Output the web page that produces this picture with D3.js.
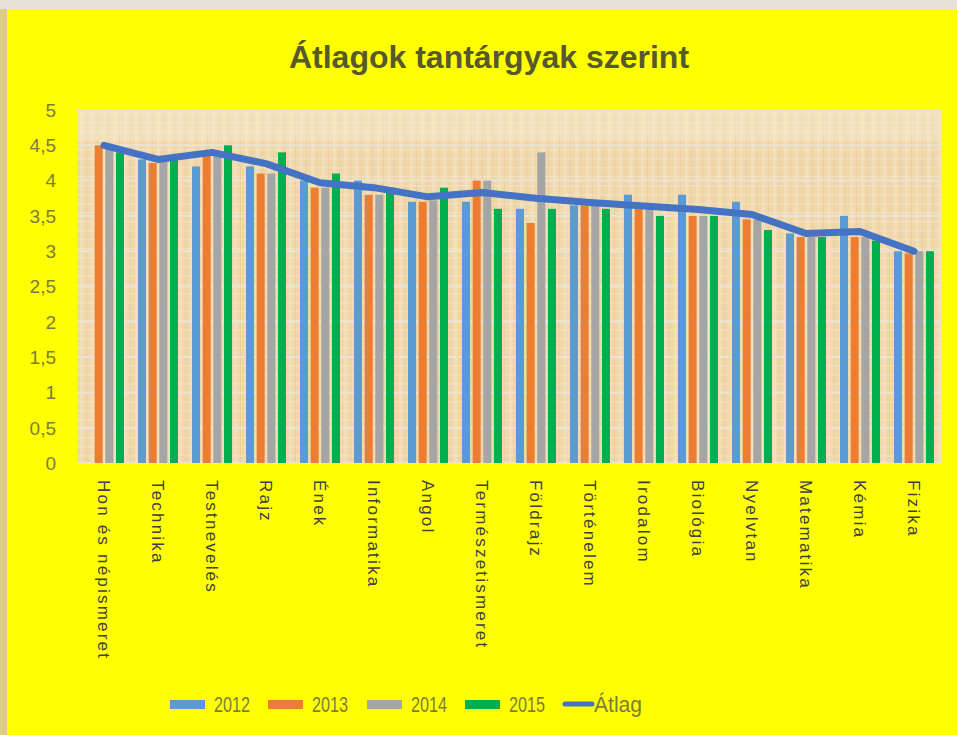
<!DOCTYPE html>
<html>
<head>
<meta charset="utf-8">
<script src="https://cdn.jsdelivr.net/npm/d3@7"></script>
<style>
  body { margin: 0; background: #e6e2da; }
  text { font-family: "Liberation Sans", Arial, sans-serif; }
</style>
</head>
<body>
<div id="chart"></div>
<script>
var categories = ["Hon és népismeret", "Technika", "Testnevelés", "Rajz", "Ének", "Informatika",
    "Angol", "Természetismeret", "Földrajz", "Történelem", "Irodalom", "Biológia",
    "Nyelvtan", "Matematika", "Kémia", "Fizika"];
var years = ["2012", "2013", "2014", "2015"];
var v2012 = [null, 4.3, 4.2, 4.2, 4.0, 4.0, 3.7, 3.7, 3.6, 3.65, 3.8, 3.8, 3.7, 3.25, 3.5, 3.0];
var v2013 = [4.5, 4.25, 4.35, 4.1, 3.9, 3.8, 3.7, 4.0, 3.4, 3.65, 3.6, 3.5, 3.45, 3.2, 3.2, 2.97];
var v2014 = [4.45, 4.28, 4.35, 4.1, 3.9, 3.8, 3.72, 4.0, 4.4, 3.65, 3.6, 3.5, 3.45, 3.2, 3.2, 3.0];
var v2015 = [4.4, 4.3, 4.5, 4.4, 4.1, 3.9, 3.9, 3.6, 3.6, 3.6, 3.5, 3.5, 3.3, 3.2, 3.15, 3.0];
var atlag = [4.5, 4.3, 4.4, 4.24, 3.97, 3.9, 3.77, 3.83, 3.75, 3.69, 3.64, 3.59, 3.52, 3.25, 3.28, 3.0];
var yTicks = [0, 0.5, 1, 1.5, 2, 2.5, 3, 3.5, 4, 4.5, 5];

var width = 957,
    height = 735,
    plot = { left: 77, right: 941, top: 110, bottom: 463 };

var series = [v2012, v2013, v2014, v2015];
var colors = ["#5b9bd5", "#ed7d31", "#a5a5a5", "#00b050"];
var lineColor = "#4472c4";

var svg = d3.select("#chart").append("svg")
    .attr("width", width)
    .attr("height", height);

// papyrus-like texture for the plot area
var defs = svg.append("defs");
var pat = defs.append("pattern")
    .attr("id", "papyrus")
    .attr("patternUnits", "userSpaceOnUse")
    .attr("width", 11)
    .attr("height", 9);
pat.append("rect").attr("width", 11).attr("height", 9).attr("fill", "#efd7aa");
pat.append("rect").attr("x", 3).attr("width", 3).attr("height", 9).attr("fill", "#f2dfb9");
pat.append("rect").attr("y", 5).attr("width", 11).attr("height", 1.5).attr("fill", "#f3e2c0");
pat.append("rect").attr("x", 9).attr("width", 1).attr("height", 9).attr("fill", "#ead0a0");

// frame
svg.append("rect").attr("x", 0).attr("y", 9).attr("width", 8).attr("height", height - 9).attr("fill", "#dccb8c");
svg.append("rect").attr("x", 7).attr("y", 9).attr("width", width - 7).attr("height", height - 9).attr("fill", "#ffff00");

var x0 = d3.scaleBand()
    .domain(categories)
    .range([plot.left, plot.right]);

var x1 = d3.scaleBand()
    .domain(years)
    .range([0, 40])
    .paddingInner(0.25);

var y = d3.scaleLinear()
    .domain([0, 5])
    .range([plot.bottom, plot.top]);

svg.append("rect")
    .attr("x", plot.left)
    .attr("y", plot.top)
    .attr("width", plot.right - plot.left)
    .attr("height", plot.bottom - plot.top)
    .attr("fill", "url(#papyrus)");
svg.append("rect")
    .attr("x", plot.left)
    .attr("y", plot.top)
    .attr("width", plot.right - plot.left)
    .attr("height", 30)
    .attr("fill", "#f6e9cf")
    .attr("opacity", 0.5);

// gridlines
svg.append("g")
    .selectAll("line")
    .data(yTicks)
    .join("line")
    .attr("x1", plot.left)
    .attr("x2", plot.right)
    .attr("y1", function (d) { return y(d); })
    .attr("y2", function (d) { return y(d); })
    .attr("stroke", "#ebe3d3")
    .attr("stroke-width", 2);

// y axis labels
svg.append("g")
    .selectAll("text")
    .data(yTicks)
    .join("text")
    .attr("x", 56)
    .attr("y", function (d) { return y(d); })
    .attr("dy", "0.36em")
    .attr("text-anchor", "end")
    .attr("font-size", 19)
    .attr("fill", "#7c7c3c")
    .text(function (d) { return String(d).replace(".", ","); });

// bars
var groups = svg.append("g")
    .selectAll("g")
    .data(categories)
    .join("g")
    .attr("transform", function (d) {
        return "translate(" + (x0(d) + (x0.bandwidth() - 40) / 2) + ",0)";
    });

groups.selectAll("rect")
    .data(function (d, i) {
        return years.map(function (yr, s) { return { year: yr, s: s, value: series[s][i] }; })
            .filter(function (e) { return e.value != null; });
    })
    .join("rect")
    .attr("x", function (d) { return x1(d.year); })
    .attr("y", function (d) { return y(d.value); })
    .attr("width", x1.bandwidth())
    .attr("height", function (d) { return y(0) - y(d.value); })
    .attr("fill", function (d) { return colors[d.s]; });

// average line
var line = d3.line()
    .x(function (d, i) { return x0(categories[i]) + x0.bandwidth() / 2; })
    .y(function (d) { return y(d); });

svg.append("path")
    .datum(atlag)
    .attr("d", line)
    .attr("fill", "none")
    .attr("stroke", lineColor)
    .attr("stroke-width", 7)
    .attr("stroke-linecap", "round")
    .attr("stroke-linejoin", "round");

// x labels (rotated)
svg.append("g")
    .selectAll("text")
    .data(categories)
    .join("text")
    .attr("transform", function (d) {
        return "translate(" + (x0(d) + x0.bandwidth() / 2 - 6) + ",480) rotate(90)";
    })
    .attr("text-anchor", "start")
    .attr("font-size", 17)
    .attr("letter-spacing", "2.2px")
    .attr("fill", "#3f3f3f")
    .text(function (d) { return d; });

// title
svg.append("text")
    .attr("x", 489)
    .attr("y", 68)
    .attr("text-anchor", "middle")
    .attr("font-size", 32)
    .attr("font-weight", "bold")
    .attr("fill", "#58582e")
    .text("Átlagok tantárgyak szerint");

// legend
var legendItems = years.map(function (yr, s) { return { label: yr, color: colors[s], type: "bar" }; });
legendItems.push({ label: "Átlag", color: lineColor, type: "line" });
var legendX = [170, 268, 367, 465, 562];

var leg = svg.append("g")
    .selectAll("g")
    .data(legendItems)
    .join("g")
    .attr("transform", function (d, i) { return "translate(" + legendX[i] + ",704)"; });

leg.filter(function (d) { return d.type === "bar"; })
    .append("rect")
    .attr("x", 0)
    .attr("y", -4)
    .attr("width", 35)
    .attr("height", 9)
    .attr("fill", function (d) { return d.color; });

leg.filter(function (d) { return d.type === "line"; })
    .append("line")
    .attr("x1", 3)
    .attr("x2", 30)
    .attr("stroke", function (d) { return d.color; })
    .attr("stroke-width", 5)
    .attr("stroke-linecap", "round");

leg.append("text")
    .attr("x", function (d) { return d.type === "bar" ? 44 : 32; })
    .attr("dy", "0.36em")
    .attr("font-size", 22)
    .attr("textLength", function (d) { return d.type === "bar" ? 36 : 48; })
    .attr("lengthAdjust", "spacingAndGlyphs")
    .attr("fill", "#7c7c3c")
    .text(function (d) { return d.label; });
</script>
</body>
</html>
